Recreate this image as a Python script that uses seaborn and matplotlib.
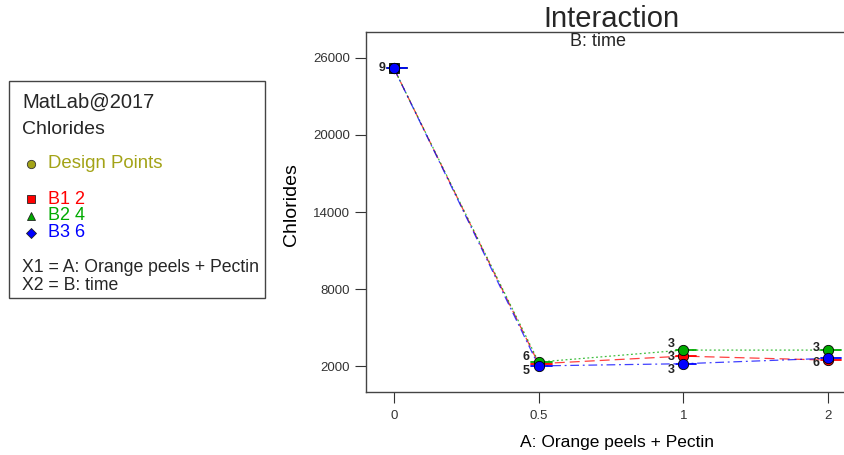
import matplotlib
matplotlib.use("Agg")
import matplotlib.pyplot as plt
import seaborn as sns
import numpy as np
import pandas as pd

sns.set_style("ticks")
plt.rcParams['font.family'] = ['Liberation Sans', 'DejaVu Sans']

# data
x_labels = ["0", "0.5", "1", "2"]
b1_values = [25170, 2200, 2790, 2480]   # B1 2 (red)
b2_values = [25170, 2330, 3260, 3260]   # B2 4 (green)
b3_values = [25170, 2030, 2200, 2620]   # B3 6 (blue)
series_names = ["B1 2", "B2 4", "B3 6"]
y_ticks = [2000, 8000, 14000, 20000, 26000]
b1_counts = ["", "", "3", "6"]
b2_counts = ["9", "6", "3", "3"]
b3_counts = ["", "5", "3", ""]

colors = ["#ff0000", "#00aa00", "#0000ff"]
line_styles = [(0, (8, 4)), (0, (1.5, 2)), (0, (7, 3, 1.5, 3))]

pos = np.arange(len(x_labels))
df = pd.DataFrame({
    "pos": np.tile(pos, 3),
    "value": b1_values + b2_values + b3_values,
    "series": np.repeat(series_names, len(pos)),
})

fig = plt.figure(figsize=(8.45, 4.55), dpi=100)
ax = fig.add_axes([366 / 845, 1 - 392 / 455, 1 - 366 / 845, (392 - 32) / 455])

for name, col, ls in zip(series_names, colors, line_styles):
    sub = df[df["series"] == name]
    sns.lineplot(data=sub, x="pos", y="value", color=col, ax=ax, lw=0.9,
                 linestyle=ls, alpha=0.75, legend=False)

# square marker behind first point
ax.scatter([0], [b3_values[0]], marker="s", s=55, color="#1a5c1a",
           edgecolor="black", zorder=3, linewidth=0.6)

counts = [b1_counts, b2_counts, b3_counts]
label_shift = {("B2 4", 1): 420, ("B3 6", 1): -420, ("B2 4", 2): 480,
               ("B1 2", 2): -100, ("B3 6", 2): -520, ("B2 4", 3): 150,
               ("B1 2", 3): -200}
for name, col, cnt in zip(series_names, colors, counts):
    sub = df[df["series"] == name]
    for p, v in zip(sub["pos"], sub["value"]):
        ax.plot([p - 0.05, p + 0.09], [v, v], color=col, lw=1.3, zorder=4)
    sns.scatterplot(data=sub, x="pos", y="value", color=col, ax=ax, s=55,
                    edgecolor="black", linewidth=0.6, zorder=5, legend=False)
    for p, v, c in zip(sub["pos"], sub["value"], cnt):
        if c:
            o = label_shift.get((name, int(p)), 0)
            ax.text(p - 0.06, v + o, c, ha="right", va="center", fontsize=9,
                    fontweight="bold", color="#222222", zorder=6)

ax.set_xlim(-0.193, 3.117)
ax.set_ylim(0, 28000)
ax.set_xticks(pos)
ax.set_xticklabels(x_labels)
ax.set_yticks(y_ticks)
ax.set_yticklabels([str(t) for t in y_ticks])
ax.tick_params(axis="both", labelsize=9.5, colors="#333333", length=8, width=0.8,
               direction="out")
ax.tick_params(axis="x", pad=5)
for s in ["left", "bottom", "top"]:
    ax.spines[s].set_color("#444444")
    ax.spines[s].set_linewidth(1.0)
ax.spines["right"].set_visible(False)
ax.set_xlabel("A: Orange peels + Pectin", fontsize=12.5, color="black", va="center")
ax.xaxis.set_label_coords((617 - 366) / (845 - 366), -(443 - 392) / 360)
ax.set_ylabel("Chlorides", fontsize=14, color="black", va="center")
ax.yaxis.set_label_coords(-(366 - 292) / (845 - 366), (392 - 205) / 360)
ax.text((598 - 366) / (845 - 366), 0.975, "B: time", transform=ax.transAxes,
        ha="center", va="center", fontsize=13)
fig.text(611 / 845, 1 - 19 / 455, "Interaction", ha="center", va="center", fontsize=21)

# left info box
fig.patches.append(plt.Rectangle((9 / 845, 1 - 298 / 455), (265 - 9) / 845, (298 - 81) / 455,
                                 transform=fig.transFigure, fill=False,
                                 edgecolor="#444444", lw=1.0))
fig.text(22 / 845, 1 - 102 / 455, "MatLab@2017", fontsize=14.5, va="center")
fig.text(22 / 845, 1 - 130 / 455, "Chlorides", fontsize=14, va="center")
fig.add_artist(matplotlib.lines.Line2D([31 / 845], [1 - 164 / 455], marker="o", ms=6,
                                       color="#a3a317", mec="#333333", mew=0.6,
                                       transform=fig.transFigure))
fig.text(48 / 845, 1 - 164 / 455, "Design Points", fontsize=13.4, va="center",
         color="#a3a317")
markers = ["s", "^", "D"]
for i, (name, col, mk) in enumerate(zip(series_names, colors, markers)):
    yy = 1 - (199 + 17 * i) / 455
    fig.add_artist(matplotlib.lines.Line2D([31 / 845], [yy], marker=mk,
                                           ms=6 if mk != "D" else 5,
                                           color=col, mec="#222222", mew=0.6,
                                           transform=fig.transFigure))
    fig.text(48 / 845, yy, name, fontsize=13, va="center", color=col)
fig.text(22 / 845, 1 - 268 / 455, "X1 = A: Orange peels + Pectin", fontsize=12.7, va="center")
fig.text(22 / 845, 1 - 285 / 455, "X2 = B: time", fontsize=12.7, va="center")

fig.savefig("out.png", dpi=100)
